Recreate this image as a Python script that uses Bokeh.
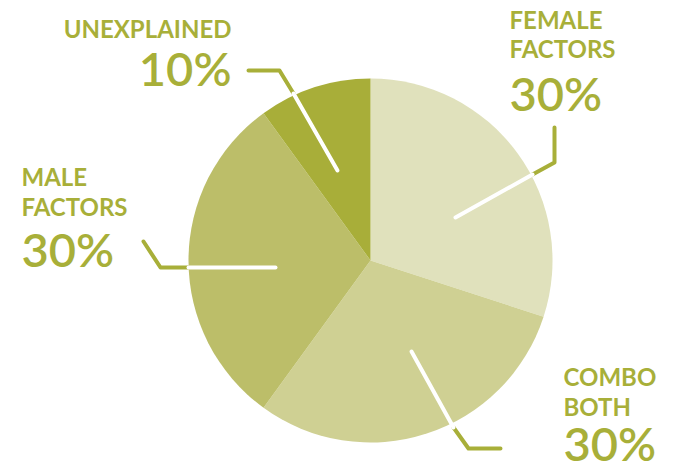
import numpy as np
from bokeh.plotting import figure
from bokeh.models import Range1d
from bokeh.embed import file_html
from bokeh.resources import INLINE
from bokeh.core.properties import value

# ---- data ----
categories = ["Female factors", "Combo both", "Male factors", "Unexplained"]
label_lines = [["FEMALE", "FACTORS"], ["COMBO", "BOTH"], ["MALE", "FACTORS"], ["UNEXPLAINED"]]
shares = [30, 30, 30, 10]
pct_labels = [f"{s}%" for s in shares]

# ---- styles ----
slice_colors = ["#e0e1bc", "#cfd093", "#bcbe69", "#a8ae39"]
olive = "#a8af39"
W, H = 682, 473
PAGE_H = 473
LBL_SIZE = 24
PCT_SIZE = 47
BASE_FIX = 0.41  # renderer baseline offset, in em

def Y(py):
    return PAGE_H - py

# ---- layout (pixel positions of the page) ----
cx, cy, R = 370, Y(260), 182
label_layout = [
    (509, "left", [29, 58], 112),
    (563, "left", [386, 416], 462),
    (21, "left", [186, 216], 268),
    (231, "right", [38], 87),
]
leader_outer = [
    [(554, 127), (554, 162), (532, 174)],
    [(453, 427), (468, 448), (500, 448)],
    [(143, 241), (160, 267), (188, 267)],
    [(248, 70), (279, 70), (293, 93)],
]
leader_inner = [
    [(532, 174), (455, 217)],
    [(411, 351), (453, 427)],
    [(188, 267), (275, 267)],
    [(293, 93), (337, 170)],
]

p = figure(width=W, height=H, output_backend="svg", toolbar_location=None,
           x_range=Range1d(0, W), y_range=Range1d(0, H),
           min_border=0, background_fill_color="white", border_fill_color="white")
p.axis.visible = False
p.grid.visible = False
p.outline_line_color = None

fr = np.cumsum([0] + shares) / sum(shares) * 2 * np.pi
starts = np.pi / 2 - fr[1:]
ends = np.pi / 2 - fr[:-1]
p.wedge(x=[cx] * len(shares), y=[cy] * len(shares), radius=R,
        start_angle=list(starts), end_angle=list(ends), direction="anticlock",
        fill_color=slice_colors, line_color=None)

p.multi_line(xs=[[a for a, b in seg] for seg in leader_outer],
             ys=[[Y(b) for a, b in seg] for seg in leader_outer],
             line_color=olive, line_width=4, line_cap="round", line_join="round")
p.multi_line(xs=[[a for a, b in seg] for seg in leader_inner],
             ys=[[Y(b) for a, b in seg] for seg in leader_inner],
             line_color="white", line_width=4, line_cap="round", line_join="round")

for lines, pct, (lx, align, bls, pbl) in zip(label_lines, pct_labels, label_layout):
    p.text(x=[lx] * len(lines), y=[Y(b - BASE_FIX * LBL_SIZE) for b in bls], text=lines,
           text_font=value("Lato"), text_font_style="bold", text_font_size=f"{LBL_SIZE}px",
           text_color=olive, text_align=align, text_baseline="alphabetic")
    p.text(x=[lx], y=[Y(pbl - BASE_FIX * PCT_SIZE)], text=[pct],
           text_font=value("'Lato Semibold', Lato"), text_font_size=f"{PCT_SIZE}px",
           text_color=olive, text_align=align, text_baseline="alphabetic")

open("out.html", "w").write(file_html(p, INLINE))
